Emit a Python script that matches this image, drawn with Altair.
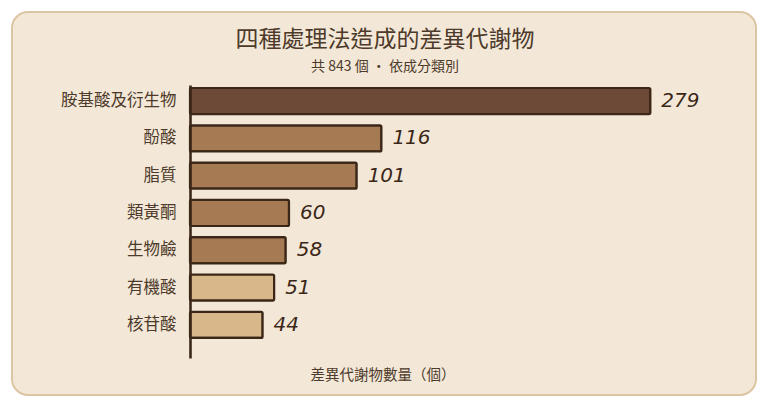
import altair as alt
import pandas as pd

categories = ["胺基酸及衍生物", "酚酸", "脂質", "類黃酮", "生物鹼", "有機酸", "核苷酸"]
counts = [279, 116, 101, 60, 58, 51, 44]
title_text = "四種處理法造成的差異代謝物"
subtitle_text = "共 843 個 · 依成分類別"
x_title_text = "差異代謝物數量（個）"

df = pd.DataFrame({"cat": categories, "n": counts})
one = pd.DataFrame({"k": [0]})

BG = "#f3e8d8"
BORDER = "#dcc5a2"
INK = "#3b2718"
TXT = "#4e3a2a"
CJK = "Noto Sans CJK TC"

W, H = 495, 273

frame = alt.Chart(one).mark_rect(
    fill=BG, stroke=BORDER, strokeWidth=2, cornerRadius=16
).encode(
    x=alt.value(-178), x2=alt.value(566), y=alt.value(-73), y2=alt.value(310)
)

ysc = alt.Scale(paddingInner=0.3, paddingOuter=0.31, align=0.13)
xsc = alt.Scale(domain=[0, 300], nice=False)

bars = alt.Chart(df).mark_bar(
    stroke=INK, strokeWidth=2.2, cornerRadius=1.5, strokeJoin="round"
).encode(
    y=alt.Y("cat:N", sort=categories, scale=ysc,
            axis=alt.Axis(title=None, ticks=False, labelPadding=14, labelFont=CJK,
                          labelFontSize=16.5, labelColor=TXT, domainColor=INK,
                          domainWidth=2.6, labelLimit=300, grid=False, zindex=2)),
    x=alt.X("n:Q", scale=xsc, axis=None),
    color=alt.Color("n:Q", legend=None,
                    scale=alt.Scale(type="threshold", domain=[55, 200],
                                    range=["#d8b88a", "#a67a52", "#6d4a37"])),
)

labels = alt.Chart(df).mark_text(
    align="left", baseline="middle", dx=11, font="DejaVu Sans", fontStyle="oblique",
    fontSize=20, color=INK
).encode(
    y=alt.Y("cat:N", sort=categories, scale=ysc),
    x=alt.X("n:Q", scale=xsc),
    text="n:Q",
)

title = alt.Chart(one).mark_text(
    text=title_text, font=CJK, fontSize=23, color=TXT, align="center", baseline="middle"
).encode(x=alt.value(195), y=alt.value(-45))

subtitle = alt.Chart(one).mark_text(
    text=subtitle_text, font=CJK, fontSize=14, color=TXT, align="center", baseline="middle"
).encode(x=alt.value(195), y=alt.value(-18))

xtitle = alt.Chart(one).mark_text(
    text=x_title_text, font=CJK, fontSize=14.5, color=TXT, align="center", baseline="middle"
).encode(x=alt.value(193), y=alt.value(291))

chart = alt.layer(frame, bars, labels, title, subtitle, xtitle).properties(
    width=W, height=H,
    autosize=alt.AutoSizeParams(type="none"),
    padding={"left": 182, "top": 77, "right": 75, "bottom": 41},
    background="white",
).configure_view(stroke=None)

chart.save("out.html", embed_options={"renderer": "svg", "actions": False})
